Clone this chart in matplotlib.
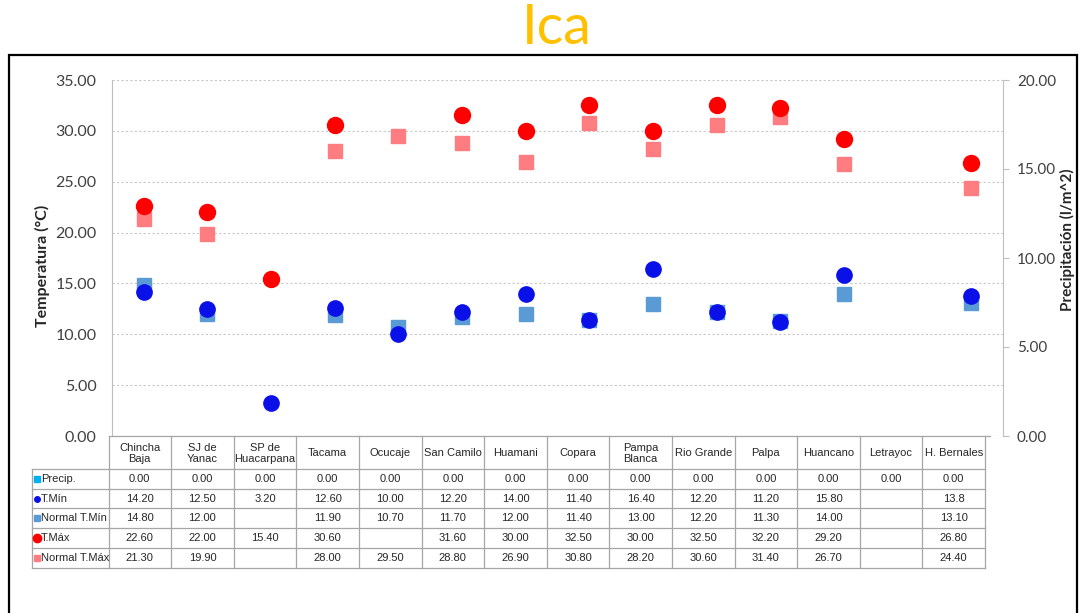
import matplotlib
matplotlib.use("Agg")
import matplotlib.pyplot as plt
import numpy as np
from matplotlib.lines import Line2D
from matplotlib.patches import Rectangle
from matplotlib.ticker import FormatStrFormatter

stations = ["Chincha\nBaja", "SJ de\nYanac", "SP de\nHuacarpana", "Tacama", "Ocucaje",
            "San Camilo", "Huamani", "Copara", "Pampa\nBlanca", "Rio Grande", "Palpa",
            "Huancano", "Letrayoc", "H. Bernales"]
# values as shown in the data table ("" = no data)
precip = ["0.00"] * 14
t_min = ["14.20", "12.50", "3.20", "12.60", "10.00", "12.20", "14.00", "11.40", "16.40",
         "12.20", "11.20", "15.80", "", "13.8"]
norm_t_min = ["14.80", "12.00", "", "11.90", "10.70", "11.70", "12.00", "11.40", "13.00",
              "12.20", "11.30", "14.00", "", "13.10"]
t_max = ["22.60", "22.00", "15.40", "30.60", "", "31.60", "30.00", "32.50", "30.00",
         "32.50", "32.20", "29.20", "", "26.80"]
norm_t_max = ["21.30", "19.90", "", "28.00", "29.50", "28.80", "26.90", "30.80", "28.20",
              "30.60", "31.40", "26.70", "", "24.40"]
row_labels = ["Precip.", "T.Mín", "Normal T.Mín", "T.Máx", "Normal T.Máx"]

c_precip = "#00B0F0"
c_tmin = "#0A10E8"
c_ntmin = "#5B9BD5"
c_tmax = "#FF0000"
c_ntmax = "#FF7C80"

W, H = 1083, 613
fx = lambda px: px / W
fy = lambda py: 1 - py / H


def num(vals):
    return np.array([float(v) if v else np.nan for v in vals])


fig = plt.figure(figsize=(W / 100, H / 100), dpi=100)
fig.patch.set_facecolor("white")

# outer frame
fig.add_artist(Rectangle((fx(9), fy(640)), fx(1077) - fx(9), fy(55) - fy(640),
                         transform=fig.transFigure, fill=False, ec="black", lw=1.6))
fig.text(fx(557), fy(28), "Ica", ha="center", va="center", fontsize=40,
         color="#FFC000", family="Lato")

ax = fig.add_axes([fx(112), fy(436), fx(1003) - fx(112), fy(80) - fy(436)])
ax2 = ax.twinx()
x = np.arange(len(stations))

ax2.bar(x, num(precip), width=0.5, color=c_precip)
ax.plot(x, num(norm_t_min), "s", color=c_ntmin, ms=9.5, zorder=3)
ax.plot(x, num(t_min), "o", color=c_tmin, ms=11, zorder=4)
ax.plot(x, num(norm_t_max), "s", color=c_ntmax, ms=9.5, zorder=3)
ax.plot(x, num(t_max), "o", color=c_tmax, ms=11.5, zorder=4)

ax.set_xlim(-0.5, len(stations) - 0.5)
ax.set_ylim(0, 35)
ax.set_yticks(np.arange(0, 36, 5))
ax.yaxis.set_major_formatter(FormatStrFormatter("%.2f"))
ax.set_xticks([])
ax.yaxis.grid(True, linestyle=(0, (2, 2)), color="#C8C8C8", lw=0.8)
ax.set_axisbelow(True)
for s in ["top", "right", "bottom"]:
    ax.spines[s].set_visible(False)
ax.spines["left"].set_color("#BFBFBF")
ax.tick_params(axis="y", length=0, pad=11, labelsize=11.5, labelcolor="#404040")
for t in ax.get_yticklabels():
    t.set_family("Lato")

ax2.set_ylim(0, 20)
ax2.set_yticks(np.arange(0, 21, 5))
ax2.yaxis.set_major_formatter(FormatStrFormatter("%.2f"))
for s in ["top", "left", "bottom"]:
    ax2.spines[s].set_visible(False)
ax2.spines["right"].set_color("#BFBFBF")
ax2.tick_params(axis="y", length=4, color="#BFBFBF", pad=6, labelsize=11,
                labelcolor="#404040")
for t in ax2.get_yticklabels():
    t.set_family("Lato")

fig.text(fx(42), fy(266), "Temperatura (°C)", rotation=90, ha="center", va="center",
         fontsize=11.5, fontweight="bold", family="Lato", color="#262626")
fig.text(fx(1067), fy(240), "Precipitación (l/m^2)", rotation=90, ha="center",
         va="center", fontsize=11, fontweight="bold", family="Lato", color="#262626")

# data table under the chart
tl, tr, ll = 108.5, 985, 32
cw = (tr - tl) / len(stations)
head_top, head_bot, rh = 436, 469, 19.7
tfont = ["Liberation Sans Narrow", "Liberation Sans"]
tsize = 8
gc = "#A6A6A6"


def hline(x0, x1, y):
    fig.add_artist(Line2D([fx(x0), fx(x1)], [fy(y), fy(y)], transform=fig.transFigure,
                          color=gc, lw=0.9))


def vline(xp, y0, y1):
    fig.add_artist(Line2D([fx(xp), fx(xp)], [fy(y0), fy(y1)], transform=fig.transFigure,
                          color=gc, lw=0.9))


hline(tl, 990, head_top)
rows = [precip, t_min, norm_t_min, t_max, norm_t_max]
bottom = head_bot + rh * len(rows)
for i in range(len(stations) + 1):
    vline(tl + i * cw, head_top, bottom)
vline(ll, head_bot, bottom)
for r in range(len(rows) + 1):
    hline(ll, tr, head_bot + r * rh)

for i, name in enumerate(stations):
    fig.text(fx(tl + (i + 0.5) * cw), fy((head_top + head_bot) / 2 + 1), name,
             ha="center", va="center", fontsize=tsize, family=tfont, color="#262626",
             linespacing=1.1)

keys = [("s", c_precip, 4), ("o", c_tmin, 4), ("s", c_ntmin, 4), ("o", c_tmax, 6),
        ("s", c_ntmax, 4)]
for r, (vals, lab, key) in enumerate(zip(rows, row_labels, keys)):
    yc = head_bot + (r + 0.5) * rh
    fig.add_artist(Line2D([fx(37)], [fy(yc)], marker=key[0], color=key[1], ms=key[2],
                          transform=fig.transFigure, lw=0))
    fig.text(fx(41), fy(yc), lab, ha="left", va="center", fontsize=tsize, family=tfont,
             color="#262626")
    for i, v in enumerate(vals):
        fig.text(fx(tl + (i + 0.5) * cw), fy(yc), v, ha="center", va="center",
                 fontsize=tsize, family=tfont, color="#262626")

fig.savefig("out.png", dpi=100)
